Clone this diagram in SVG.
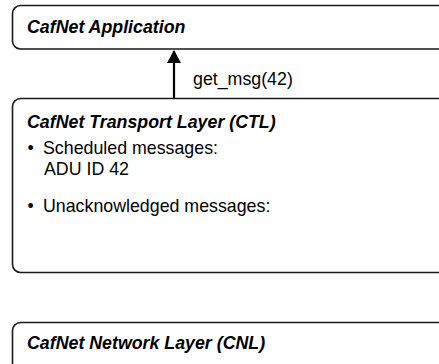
<svg xmlns="http://www.w3.org/2000/svg" width="439" height="364" viewBox="0 0 439 364">
<style>
.box{fill:#fff;stroke:#1a1a1a;stroke-width:1.6}
.title{font-family:"Liberation Sans",Arial,sans-serif;font-size:17.8px;font-weight:bold;font-style:italic;fill:#000}
.txt{font-family:"Liberation Sans",Arial,sans-serif;font-size:17.8px;fill:#000}
.conn{stroke:#000;stroke-width:2.2;fill:none}
</style>
<defs>
<marker id="ah" viewBox="0 0 13 14" refX="12" refY="7" markerWidth="13" markerHeight="14" markerUnits="userSpaceOnUse" orient="auto">
<path d="M0,0 L13,7 L0,14 Z" fill="#000"/>
</marker>
</defs>
<rect x="0" y="0" width="439" height="364" fill="#fff"/>
<g id="app">
<rect class="box" x="12.5" y="5.5" width="440" height="43.5" rx="8"/>
<text class="title" x="27" y="33">CafNet Application</text>
</g>
<g id="ctl">
<rect class="box" x="12.5" y="98.5" width="440" height="174" rx="8"/>
<text class="title" x="27" y="128">CafNet Transport Layer (CTL)</text>
<text class="txt" x="27.5" y="154">•</text>
<text class="txt" x="43" y="154">Scheduled messages:</text>
<text class="txt" x="44" y="175">ADU ID 42</text>
<text class="txt" x="27.5" y="212">•</text>
<text class="txt" x="43" y="212">Unacknowledged messages:</text>
</g>
<g id="cnl">
<rect class="box" x="12.5" y="322.5" width="440" height="60" rx="8"/>
<text class="title" x="27" y="349">CafNet Network Layer (CNL)</text>
</g>
<g id="connectors">
<line class="conn" x1="174" y1="98" x2="174" y2="51" marker-end="url(#ah)"/>
<text class="txt" x="193" y="85">get_msg(42)</text>
</g>
</svg>
